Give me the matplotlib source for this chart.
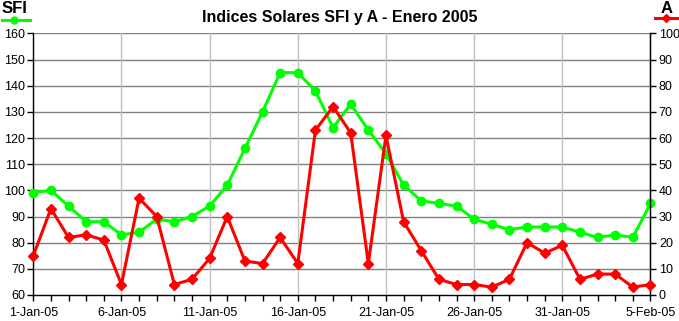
import numpy as np
import matplotlib.pyplot as plt
import matplotlib.dates as mdates
from matplotlib.lines import Line2D

plt.rcParams["font.family"] = ["Liberation Sans", "DejaVu Sans"]

dates = np.arange(np.datetime64("2005-01-01"), np.datetime64("2005-02-06"))
sfi = [99, 100, 94, 88, 88, 83, 84, 89, 88, 90, 94, 102, 116, 130, 145, 145,
       138, 124, 133, 123, 114, 102, 96, 95, 94, 89, 87, 85, 86, 86, 86, 84,
       82, 83, 82, 95]
a_idx = [15, 33, 22, 23, 21, 4, 37, 30, 4, 6, 14, 30, 13, 12, 22, 12,
         63, 72, 62, 12, 61, 28, 17, 6, 4, 4, 3, 6, 20, 16, 19, 6,
         8, 8, 3, 4]

GREEN = "#00ff00"
RED = "#ff0000"

fig = plt.figure(figsize=(6.79, 3.21), dpi=100)
ax = fig.add_axes([0.049, 0.081, 0.909, 0.815])
ax2 = ax.twinx()

ax.set_ylim(60, 160)
ax.set_yticks(np.arange(60, 161, 10))
ax2.set_ylim(0, 100)
ax2.set_yticks(np.arange(0, 101, 10))
ax.set_xlim(dates[0], dates[-1])

# grid
for v in range(70, 161, 10):
    ax.axhline(v, color="#808080", lw=1, zorder=0)
for d in dates[::5]:
    ax.axvline(d, color="#c0c0c0", lw=1, zorder=0)

ax.plot(dates, sfi, color=GREEN, lw=2.2, marker="o", ms=6, zorder=3, clip_on=False)
ax2.plot(dates, a_idx, color=RED, lw=2.2, marker="D", ms=5.5, zorder=3, clip_on=False)

ax.set_xticks(dates[::5])
ax.xaxis.set_major_formatter(mdates.DateFormatter("%-d-%b-%y"))
ax.set_xticks(dates, minor=True)

ax.spines["top"].set_visible(False)
ax2.spines["top"].set_visible(False)
ax2.spines["left"].set_visible(False)
ax2.spines["bottom"].set_visible(False)
for sp in [ax.spines["left"], ax.spines["bottom"], ax2.spines["right"]]:
    sp.set_color("black")
    sp.set_linewidth(1)

ax.tick_params(axis="both", labelsize=9, length=4, width=1, pad=2)
ax.tick_params(axis="x", which="minor", length=4, width=1)
ax.tick_params(axis="x", pad=5)
ax2.tick_params(axis="y", labelsize=9, length=4, width=1, pad=2)
ax.patch.set_visible(False)
ax2.patch.set_visible(False)

fig.text(0.5, 0.945, "Indices Solares SFI y A - Enero 2005", ha="center",
         va="center", fontsize=11.5, fontweight="bold")

# legend keys
fig.text(0.022, 0.972, "SFI", ha="center", va="center", fontsize=12, fontweight="bold")
fig.add_artist(Line2D([0.003, 0.044], [0.938, 0.938], color=GREEN, lw=2.2,
                      transform=fig.transFigure))
fig.add_artist(Line2D([0.021], [0.938], color=GREEN, marker="o", ms=5,
                      transform=fig.transFigure))
fig.text(0.981, 0.975, "A", ha="center", va="center", fontsize=12, fontweight="bold")
fig.add_artist(Line2D([0.965, 0.998], [0.945, 0.945], color=RED, lw=2.2,
                      transform=fig.transFigure))
fig.add_artist(Line2D([0.981], [0.945], color=RED, marker="D", ms=4.5,
                      transform=fig.transFigure))

fig.savefig("out.png", dpi=100)
